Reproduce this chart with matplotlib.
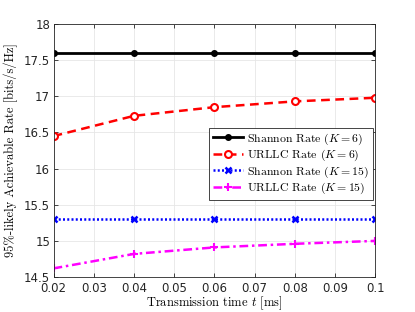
import matplotlib
matplotlib.use("Agg")
import matplotlib.pyplot as plt
from matplotlib.ticker import FixedLocator, FixedFormatter

plt.rcParams['mathtext.fontset'] = 'cm'

t = [0.02, 0.04, 0.06, 0.08, 0.1]
shannon_k6 = [17.6, 17.6, 17.6, 17.6, 17.6]
urllc_k6 = [16.45, 16.73, 16.85, 16.93, 16.98]
shannon_k15 = [15.3, 15.3, 15.3, 15.3, 15.3]
urllc_k15 = [14.62, 14.82, 14.91, 14.96, 15.0]

xticks = [0.02, 0.03, 0.04, 0.05, 0.06, 0.07, 0.08, 0.09, 0.1]
xticklabels = ['0.02', '0.03', '0.04', '0.05', '0.06', '0.07', '0.08', '0.09', '0.1']
yticks = [14.5, 15, 15.5, 16, 16.5, 17, 17.5, 18]
yticklabels = ['14.5', '15', '15.5', '16', '16.5', '17', '17.5', '18']

fig = plt.figure(figsize=(4.15, 3.12), dpi=100)
ax = fig.add_axes([0.129, 0.112, 0.775, 0.811])

ax.plot(t, shannon_k6, color='black', linestyle='-', linewidth=2.0, marker='o', markersize=4,
        label=r'Shannon Rate ($K=6$)')
ax.plot(t, urllc_k6, color='red', linestyle='--', dashes=(3.5, 2.2), linewidth=1.8, marker='o', markersize=5,
        markerfacecolor='white', markeredgewidth=1.5, label=r'URLLC Rate ($K=6$)')
ax.plot(t, shannon_k15, color='blue', linestyle=':', dashes=(0.8, 0.9), linewidth=1.8, marker='x', markersize=4,
        markeredgewidth=1.8, label=r'Shannon Rate ($K=15$)')
ax.plot(t, urllc_k15, color='magenta', linestyle='-.', dashes=(3.5, 1.5, 1, 1.5), linewidth=1.8, marker='+', markersize=6,
        markeredgewidth=1.5, label=r'URLLC Rate ($K=15$)')

ax.set_xlim(0.02, 0.1)
ax.set_ylim(14.5, 18)
ax.xaxis.set_major_locator(FixedLocator(xticks))
ax.xaxis.set_major_formatter(FixedFormatter(xticklabels))
ax.yaxis.set_major_locator(FixedLocator(yticks))
ax.yaxis.set_major_formatter(FixedFormatter(yticklabels))
ax.tick_params(direction='in', top=True, right=True, labelsize=8.5, colors='#262626', length=3, width=0.6, pad=2.5)
ax.tick_params(axis='x', pad=3.5)
for s in ax.spines.values():
    s.set_color('#262626')
    s.set_linewidth(0.6)
ax.grid(True, color='#e6e6e6', linewidth=0.6)
ax.set_axisbelow(True)

ax.set_xlabel(r'Transmission time $t$ [ms]', family='cmr10', fontsize=9, labelpad=0)
ax.set_ylabel(r'95%-likely Achievable Rate [bits/s/Hz]', family='cmr10', fontsize=9, labelpad=4)

leg = ax.legend(loc='upper right', bbox_to_anchor=(0.992, 0.59), prop={'family': 'cmr10', 'size': 8.5},
                fancybox=False, edgecolor='#262626', framealpha=1, handlelength=2.6,
                borderpad=0.3, labelspacing=0.1, handletextpad=0.3, borderaxespad=0.0)
leg.get_frame().set_linewidth(0.6)

fig.savefig('out.png', dpi=100)
